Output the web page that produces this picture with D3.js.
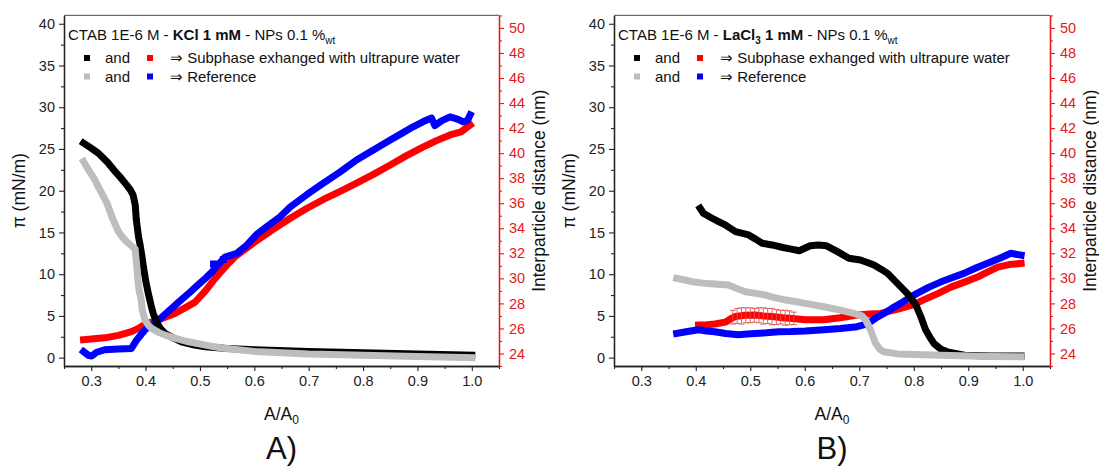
<!DOCTYPE html>
<html>
<head>
<meta charset="UTF-8">
<title>Surface pressure and interparticle distance</title>
<style>
  body { margin: 0; background: #fff; }
  svg { font-family: "Liberation Sans", Arial, sans-serif; }
</style>
</head>
<body>
<script src="https://d3js.org/d3.v7.min.js"></script>
<script>
// tick labels
const xTicks = [0.3, 0.4, 0.5, 0.6, 0.7, 0.8, 0.9, 1.0];
const xMinor = [0.25, 0.35, 0.45, 0.55, 0.65, 0.75, 0.85, 0.95, 1.05];
const piTicks = [0, 5, 10, 15, 20, 25, 30, 35, 40];
const piMinor = [2.5, 7.5, 12.5, 17.5, 22.5, 27.5, 32.5, 37.5];
const distTicks = [24, 26, 28, 30, 32, 34, 36, 38, 40, 42, 44, 46, 48, 50];
const distMinor = [23, 25, 27, 29, 31, 33, 35, 37, 39, 41, 43, 45, 47, 49, 51];

// panel A (KCl) : [A/A0, pi] and [A/A0, distance]
const aBlack = [[0.286,25.7],[0.300,25.1],[0.313,24.5],[0.330,23.4],[0.344,22.3],[0.355,21.5],[0.365,20.7],
  [0.372,20.1],[0.377,19.5],[0.381,18.3],[0.383,16.5],[0.387,14.5],[0.390,13.5],[0.393,12.3],[0.396,10.9],
  [0.400,9.3],[0.405,7.7],[0.410,6.3],[0.414,5.3],[0.420,4.3],[0.427,3.5],[0.436,2.9],[0.450,2.4],[0.466,1.9],
  [0.490,1.5],[0.510,1.3],[0.550,1.1],[0.600,0.95],[0.700,0.75],[0.800,0.6],[0.900,0.45],[1.000,0.3]];
const aGray = [[0.286,23.5],[0.295,22.5],[0.305,21.5],[0.313,20.5],[0.321,19.5],[0.329,18.5],[0.338,16.9],
  [0.344,16.0],[0.350,15.1],[0.358,14.4],[0.365,13.9],[0.374,13.4],[0.381,13.0],[0.382,12.1],[0.384,10.9],
  [0.386,9.3],[0.388,8.1],[0.392,6.9],[0.394,5.7],[0.399,4.5],[0.405,3.9],[0.411,3.5],[0.425,3.0],[0.436,2.7],
  [0.455,2.3],[0.479,1.9],[0.510,1.5],[0.540,1.15],[0.600,0.75],[0.700,0.45],[0.800,0.3],[0.900,0.15],[1.000,0.0]];
const aRed = [[0.286,25.1],[0.300,25.15],[0.325,25.25],[0.350,25.45],[0.374,25.74],[0.387,26.0],[0.399,26.35],
  [0.423,26.67],[0.454,27.2],[0.475,27.7],[0.491,28.1],[0.510,29.0],[0.528,30.0],[0.546,30.9],[0.564,31.7],
  [0.582,32.3],[0.601,32.9],[0.634,33.9],[0.666,34.8],[0.697,35.6],[0.727,36.3],[0.758,36.95],[0.788,37.6],
  [0.819,38.3],[0.850,39.05],[0.880,39.8],[0.911,40.5],[0.935,41.0],[0.960,41.45],[0.980,41.7],[0.997,42.25]];
const aBlue = [[0.286,24.15],[0.295,23.85],[0.301,23.8],[0.310,24.1],[0.325,24.3],[0.350,24.35],[0.374,24.4],
  [0.384,25.1],[0.399,25.9],[0.415,26.4],[0.430,26.9],[0.448,27.6],[0.466,28.3],[0.482,28.9],[0.497,29.5],
  [0.510,30.0],[0.522,30.5],[0.546,31.7],[0.568,32.0],[0.585,32.6],[0.604,33.5],[0.625,34.2],[0.647,34.9],
  [0.666,35.7],[0.697,36.7],[0.727,37.6],[0.758,38.5],[0.788,39.45],[0.819,40.25],[0.850,41.05],[0.872,41.6],
  [0.892,42.1],[0.910,42.5],[0.926,42.8],[0.932,42.2],[0.945,42.6],[0.960,42.9],[0.975,42.7],[0.984,42.5],
  [0.992,42.6],[0.997,43.05]];
const aBlueStray = [[0.525,31.15],[0.543,31.5]];

// panel B (LaCl3)
const bBlack = [[0.408,17.9],[0.414,17.3],[0.430,16.7],[0.442,16.3],[0.454,15.9],[0.473,15.1],[0.497,14.7],
  [0.510,14.2],[0.522,13.7],[0.540,13.5],[0.560,13.2],[0.575,13.0],[0.590,12.8],[0.600,13.1],[0.610,13.4],
  [0.625,13.5],[0.640,13.4],[0.660,12.7],[0.681,11.9],[0.702,11.7],[0.715,11.4],[0.727,11.1],[0.740,10.6],
  [0.752,10.1],[0.770,8.9],[0.788,7.7],[0.804,6.3],[0.813,4.9],[0.822,3.3],[0.830,2.4],[0.837,1.7],[0.850,1.0],
  [0.862,0.7],[0.893,0.3],[0.940,0.2],[0.997,0.2]];
const bGray = [[0.365,9.5],[0.380,9.3],[0.393,9.1],[0.417,8.9],[0.440,8.8],[0.460,8.7],[0.475,8.3],[0.491,7.9],
  [0.510,7.7],[0.528,7.5],[0.545,7.2],[0.565,6.9],[0.585,6.7],[0.601,6.5],[0.635,6.1],[0.665,5.7],[0.690,5.3],
  [0.705,5.0],[0.712,4.5],[0.721,3.3],[0.730,1.7],[0.738,1.0],[0.745,0.7],[0.770,0.45],[0.850,0.3],[0.940,0.15],
  [0.997,0.1]];
const bRed = [[0.405,26.27],[0.420,26.3],[0.435,26.35],[0.454,26.5],[0.465,26.8],[0.473,26.95],[0.490,27.05],
  [0.509,27.07],[0.525,27.0],[0.540,26.95],[0.560,26.85],[0.577,26.8],[0.601,26.7],[0.635,26.7],[0.665,26.85],
  [0.696,27.07],[0.720,27.15],[0.739,27.2],[0.758,27.4],[0.776,27.6],[0.800,27.9],[0.819,28.3],[0.845,28.8],
  [0.868,29.3],[0.893,29.7],[0.917,30.1],[0.935,30.5],[0.954,30.9],[0.975,31.1],[0.997,31.2]];
const bRedErr = [[0.468,26.9,0.55],[0.476,27.0,0.6],[0.484,27.0,0.65],[0.492,27.05,0.6],[0.500,27.05,0.6],
  [0.508,27.05,0.55],[0.516,27.05,0.6],[0.524,27.0,0.65],[0.532,27.0,0.6],[0.540,26.95,0.65],[0.548,26.9,0.6],
  [0.556,26.9,0.55],[0.564,26.85,0.6],[0.572,26.85,0.55],[0.580,26.8,0.5]];
const bBlue = [[0.365,25.6],[0.385,25.75],[0.405,25.9],[0.420,25.8],[0.435,25.74],[0.455,25.6],[0.478,25.5],
  [0.495,25.55],[0.509,25.6],[0.530,25.65],[0.552,25.74],[0.575,25.75],[0.601,25.8],[0.635,25.9],[0.665,26.0],
  [0.696,26.14],[0.710,26.3],[0.721,26.54],[0.733,26.9],[0.745,27.2],[0.760,27.6],[0.776,28.0],[0.790,28.4],
  [0.806,28.8],[0.828,29.3],[0.849,29.7],[0.870,30.05],[0.892,30.4],[0.915,30.85],[0.941,31.3],[0.960,31.65],
  [0.978,32.0],[0.997,31.85]];

const RED = "#e31a1c";
const width = 1099, height = 468;
const plotTop = 15.4, plotBottom = 366;

const svg = d3.select("body").append("svg")
  .attr("width", width)
  .attr("height", height);

function drawPanel(p) {
  const g = svg.append("g");
  const x = d3.scaleLinear().domain([0.25, 1.05]).range([p.left, p.right]);
  const yPi = d3.scaleLinear().domain([-1, 41]).range([plotBottom, plotTop]);
  const yD = d3.scaleLinear().domain([23, 51]).range([plotBottom, plotTop]);

  // series, drawn as thick bands of overlapping markers
  const band = (data, y, color) => g.append("path")
    .datum(data)
    .attr("d", d3.line().x(d => x(d[0])).y(d => y(d[1])))
    .attr("fill", "none")
    .attr("stroke", color)
    .attr("stroke-width", 7)
    .attr("stroke-linecap", "square")
    .attr("stroke-linejoin", "round");

  band(p.red, yD, "#ff0000");
  band(p.blue, yD, "#0000ff");
  band(p.black, yPi, "#000000");
  band(p.gray, yPi, "#bdbdbd");

  if (p.stray) {
    g.selectAll(".stray").data(p.stray).enter().append("rect")
      .attr("x", d => x(d[0]) - 3.5).attr("y", d => yD(d[1]) - 3.5)
      .attr("width", 7).attr("height", 7).attr("fill", "#0000ff");
  }
  if (p.err) {
    const eg = g.append("g").attr("stroke", "#d9534f").attr("stroke-width", 0.9).attr("fill", "none");
    p.err.forEach(d => {
      const cx = x(d[0]), y1 = yD(d[1] + d[2]), y2 = yD(d[1] - d[2]);
      eg.append("line").attr("x1", cx).attr("x2", cx).attr("y1", y1).attr("y2", y2);
      eg.append("line").attr("x1", cx - 3).attr("x2", cx + 3).attr("y1", y1).attr("y2", y1);
      eg.append("line").attr("x1", cx - 3).attr("x2", cx + 3).attr("y1", y2).attr("y2", y2);
    });
  }

  // frame top
  g.append("line").attr("x1", p.left).attr("x2", p.right).attr("y1", plotTop).attr("y2", plotTop)
    .attr("stroke", "#6b6b6b").attr("stroke-width", 1.3);

  const styleAxis = (sel, color) => {
    sel.selectAll("path").attr("stroke", color).attr("stroke-width", 1.3);
    sel.selectAll("line").attr("stroke", color).attr("stroke-width", 1.1);
    sel.selectAll("text").attr("fill", color).attr("font-size", 14.5)
      .attr("font-family", '"Liberation Sans", Arial, sans-serif');
  };

  // bottom axis
  const xa = g.append("g").attr("transform", `translate(0,${plotBottom})`)
    .call(d3.axisBottom(x).tickValues(xTicks).tickFormat(d3.format(".1f")).tickSize(5).tickSizeOuter(0).tickPadding(5));
  styleAxis(xa, "#222");
  const xm = g.append("g").attr("transform", `translate(0,${plotBottom})`)
    .call(d3.axisBottom(x).tickValues(xMinor).tickFormat("").tickSize(3).tickSizeOuter(0));
  styleAxis(xm, "#222");

  // left axis
  const ya = g.append("g").attr("transform", `translate(${p.left},0)`)
    .call(d3.axisLeft(yPi).tickValues(piTicks).tickSize(5).tickSizeOuter(0).tickPadding(4));
  styleAxis(ya, "#222");
  const ym = g.append("g").attr("transform", `translate(${p.left},0)`)
    .call(d3.axisLeft(yPi).tickValues(piMinor).tickFormat("").tickSize(3).tickSizeOuter(0));
  styleAxis(ym, "#222");

  // right axis
  const ra = g.append("g").attr("transform", `translate(${p.right},0)`)
    .call(d3.axisRight(yD).tickValues(distTicks).tickSize(5).tickSizeOuter(0).tickPadding(5));
  styleAxis(ra, RED);
  const rm = g.append("g").attr("transform", `translate(${p.right},0)`)
    .call(d3.axisRight(yD).tickValues(distMinor).tickFormat("").tickSize(3).tickSizeOuter(0));
  styleAxis(rm, RED);

  // axis titles
  const midY = (plotTop + plotBottom) / 2;
  g.append("text").attr("transform", `translate(${p.left - 39},${midY}) rotate(-90)`)
    .attr("text-anchor", "middle").attr("font-size", 17.5).attr("fill", "#111").text("π (mN/m)");
  g.append("text").attr("transform", `translate(${p.right + 46},${midY}) rotate(-90)`)
    .attr("text-anchor", "middle").attr("font-size", 17.5).attr("fill", "#111").text("Interparticle distance (nm)");
  const xt = g.append("text").attr("x", (p.left + p.right) / 2).attr("y", 420)
    .attr("text-anchor", "middle").attr("font-size", 17.5).attr("fill", "#111");
  xt.append("tspan").text("A/A");
  xt.append("tspan").attr("font-size", 12).attr("dy", 4).text("0");
  g.append("text").attr("x", (p.left + p.right) / 2).attr("y", 459)
    .attr("text-anchor", "middle").attr("font-size", 31).attr("fill", "#111").text(p.tag);

  // legend
  const lx = p.left;
  const title = g.append("text").attr("x", lx + 4).attr("y", 40).attr("font-size", 15).attr("fill", "#111");
  p.title.forEach(t => {
    const s = title.append("tspan").text(t.s);
    if (t.b) s.attr("font-weight", "bold");
    if (t.sub) s.attr("font-size", 10).attr("dy", 4);
    if (t.up) s.attr("dy", -4);
  });
  const rows = [
    { c1: "#000000", c2: "#ff0000", label: "Subphase exhanged with ultrapure water", y: 58 },
    { c1: "#bdbdbd", c2: "#0000ff", label: "Reference", y: 76.5 }
  ];
  rows.forEach(r => {
    g.append("rect").attr("x", lx + 20).attr("y", r.y - 3).attr("width", 6).attr("height", 6).attr("fill", r.c1);
    g.append("text").attr("x", lx + 41).attr("y", r.y + 5).attr("font-size", 15).attr("fill", "#111").text("and");
    g.append("rect").attr("x", lx + 83).attr("y", r.y - 3).attr("width", 6).attr("height", 6).attr("fill", r.c2);
    g.append("text").attr("x", lx + 106).attr("y", r.y + 5).attr("font-size", 15).attr("fill", "#111")
      .text("⇒ " + r.label);
  });
}

drawPanel({
  left: 64, right: 499, tag: "A)",
  black: aBlack, gray: aGray, red: aRed, blue: aBlue, stray: aBlueStray,
  title: [{ s: "CTAB 1E-6 M - " }, { s: "KCl 1 mM", b: true }, { s: " - NPs 0.1 %" }, { s: "wt", sub: true }]
});
drawPanel({
  left: 614, right: 1050, tag: "B)",
  black: bBlack, gray: bGray, red: bRed, blue: bBlue, err: bRedErr,
  title: [{ s: "CTAB 1E-6 M - " }, { s: "LaCl", b: true }, { s: "3", b: true, sub: true },
          { s: " 1 mM", b: true, up: true }, { s: " - NPs 0.1 %" }, { s: "wt", sub: true }]
});
</script>
</body>
</html>
